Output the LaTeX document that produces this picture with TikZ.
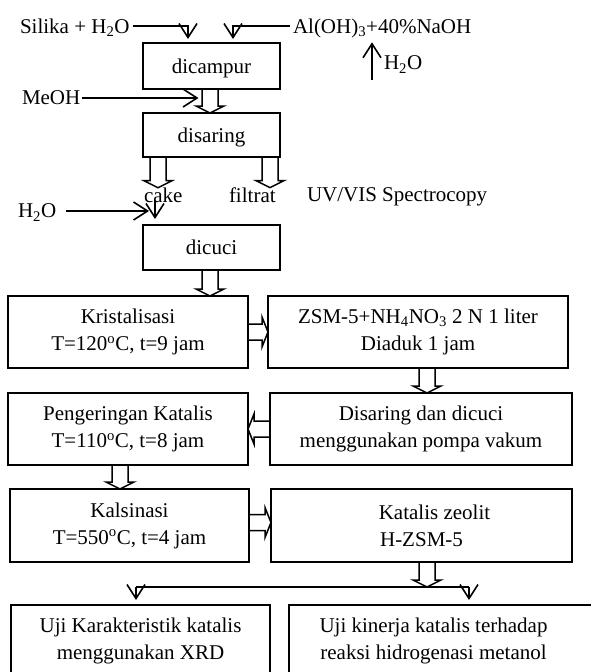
\documentclass[tikz,border=0pt]{standalone}
\usepackage{fontspec}
\setmainfont{Liberation Serif}
\usetikzlibrary{arrows.meta,calc}
\newcommand{\hollowdown}[2]{\draw[hollow] let \p1=#1, \p2=#2 in (\x1-8pt,\y1) -- (\x1-8pt,\y2+7pt) -- (\x1-14pt,\y2+7pt) -- (\x1,\y2) -- (\x1+14pt,\y2+7pt) -- (\x1+8pt,\y2+7pt) -- (\x1+8pt,\y1);}
\newcommand{\hollowright}[2]{\draw[hollow] let \p1=#1, \p2=#2 in (\x1,\y1+8pt) -- (\x2-6pt,\y1+8pt) -- (\x2-6pt,\y1+15pt) -- (\x2,\y1) -- (\x2-6pt,\y1-15pt) -- (\x2-6pt,\y1-8pt) -- (\x1,\y1-8pt);}
\newcommand{\hollowleft}[2]{\draw[hollow] let \p1=#1, \p2=#2 in (\x1,\y1+8pt) -- (\x2+6pt,\y1+8pt) -- (\x2+6pt,\y1+15pt) -- (\x2,\y1) -- (\x2+6pt,\y1-15pt) -- (\x2+6pt,\y1-8pt) -- (\x1,\y1-8pt);}
\begin{document}
\begin{tikzpicture}[x=1pt,y=-1pt,
  every node/.style={font=\fontsize{21}{27}\selectfont},
  box/.style={draw, line width=1.8pt, inner sep=0pt, outer sep=0pt, align=center},
  sbox/.style={box, text depth=0pt},
  lbl/.style={inner sep=0pt, outer sep=0pt, anchor=west, text depth=0pt},
  arr/.style={line width=1.4pt, -{Straight Barb[length=14pt,width=18pt,line width=1.6pt]}},
  hollow/.style={line width=1.5pt, line join=miter},
  ]
\useasboundingbox (0,0) rectangle (591,672);

% boxes
\node[sbox, minimum width=137pt, minimum height=46pt] (dicampur) at (211.5,66) {dicampur};
\node[sbox, minimum width=137pt, minimum height=44pt] (disaring) at (211.5,135) {disaring};
\node[sbox, minimum width=137pt, minimum height=45pt] (dicuci) at (211.5,247.5) {dicuci};
\node[box, minimum width=240pt, minimum height=72pt] (krist) at (128,332) {Kristalisasi\\T=120\textsuperscript{o}C, t=9 jam};
\node[box, minimum width=300pt, minimum height=72pt] (zsm) at (418,332) {ZSM-5+NH\textsubscript{4}NO\textsubscript{3} 2 N 1 liter\\Diaduk 1 jam};
\node[box, minimum width=240pt, minimum height=72pt] (peng) at (128,429) {Pengeringan Katalis\\T=110\textsuperscript{o}C, t=8 jam};
\node[box, minimum width=302pt, minimum height=72pt] (dis2) at (421,429) {Disaring dan dicuci\\menggunakan pompa vakum};
\node[box, minimum width=239pt, minimum height=73pt] (kals) at (129.5,525.5) {Kalsinasi\\T=550\textsuperscript{o}C, t=4 jam};
\node[box, minimum width=301pt, minimum height=73pt] (kat) at (421.5,525.5) {\hspace*{26pt}Katalis zeolit\\H-ZSM-5};
\node[box, minimum width=259pt, minimum height=72pt] (uji1) at (140.5,641) {Uji Karakteristik katalis\\menggunakan XRD};
\node[box, minimum width=312pt, minimum height=72pt] (uji2) at (445,641) {};
\node[align=center, inner sep=0pt] (uji2t) at (433.5,641) {Uji kinerja katalis terhadap\\reaksi hidrogenasi metanol};

% labels
\node[lbl] (silika) at (20,26) {Silika + H\textsubscript{2}O};
\node[lbl] (al) at (293,26) {Al(OH)\textsubscript{3}+40\%NaOH};
\node[lbl] (h2otop) at (384,63) {H\textsubscript{2}O};
\node[lbl] (meoh) at (22,98) {MeOH};
\node[lbl] (cake) at (144,195) {cake};
\node[lbl] (filtrat) at (229,195) {filtrat};
\node[lbl] (uv) at (307,195) {UV/VIS Spectrocopy};
\node[lbl] (h2oleft) at (18,211) {H\textsubscript{2}O};

\coordinate (h2oup) at (372,80);
\coordinate (wash) at (149,211);
\coordinate (cakedrop) at (155,200);
\coordinate (split) at (427,587);
\coordinate (splitL) at (136,587);
\coordinate (splitR) at (469,587);

% thin arrows
\draw[arr, shorten <=3pt, shorten >=4pt] (silika.east) -| ([xshift=45pt]dicampur.north west);
\draw[arr, shorten <=3pt, shorten >=4pt] (al.west) -| ([xshift=90pt]dicampur.north west);
\draw[arr, shorten >=9pt] (h2oup) -- (h2oup |- al.south);
\draw[arr, shorten <=2pt, shorten >=13pt] (meoh.east) -- (meoh.east -| dicampur.south);
\draw[arr, shorten <=10pt] (h2oleft.east) -- (wash);
\draw[arr, shorten >=6pt] (cakedrop) -- (cakedrop |- dicuci.north);

% hollow arrows
\hollowdown{([xshift=-1.5pt]dicampur.south)}{(disaring.north)}
\hollowdown{([xshift=15pt]disaring.south west)}{(cake.north)}
\hollowdown{([xshift=-10pt]disaring.south east)}{(filtrat.north)}
\hollowdown{([xshift=-1.5pt]dicuci.south)}{(krist.north)}
\hollowright{(krist.east)}{(zsm.west)}
\hollowdown{([xshift=9pt]zsm.south)}{(dis2.north)}
\hollowleft{(dis2.west)}{(peng.east)}
\hollowdown{([xshift=-8pt]peng.south)}{(kals.north)}
\hollowright{([yshift=3pt]kals.east)}{(kat.west)}
\hollowdown{([xshift=5.5pt]kat.south)}{(split)}

% split to tests
\draw[line width=1.4pt] (splitL) -- (splitR);
\draw[arr, shorten >=5pt] (splitL) -- (splitL |- uji1.north);
\draw[arr, shorten >=5pt] (splitR) -- (splitR |- uji2.north);
\end{tikzpicture}
\end{document}
